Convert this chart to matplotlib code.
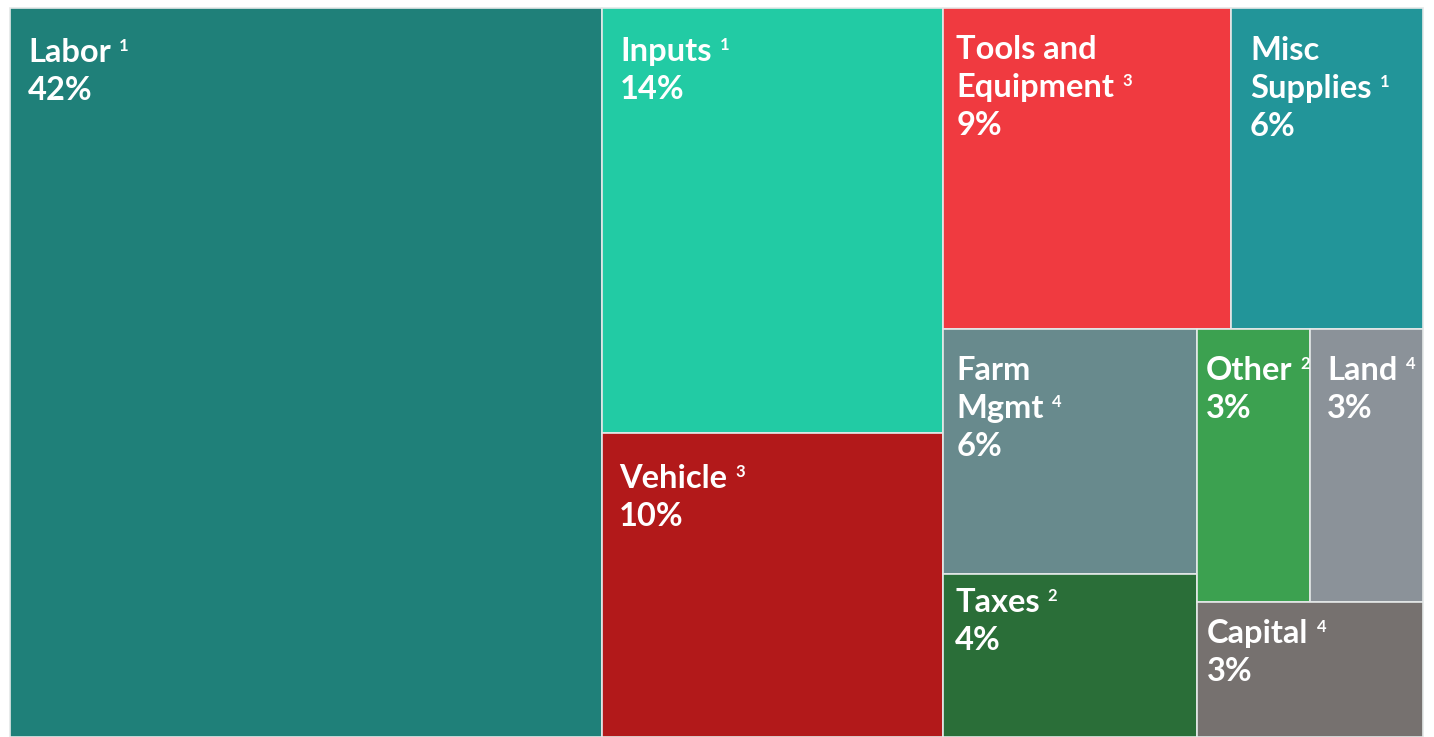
import matplotlib
matplotlib.use('Agg')
import matplotlib.pyplot as plt
from matplotlib.patches import Rectangle

# cost categories (share of total cost, %), footnote number and colour
names = ['Labor', 'Inputs', 'Vehicle', 'Tools and\nEquipment', 'Misc\nSupplies',
         'Farm\nMgmt', 'Taxes', 'Other', 'Land', 'Capital']
shares = [41.9, 14.07, 10.06, 8.97, 5.98, 6.04, 4.02, 2.99, 2.99, 2.96]
notes = [1, 1, 3, 3, 1, 4, 2, 2, 4, 4]
colors = ['#1F8079', '#22CBA4', '#B2191A', '#F03A40', '#229599',
          '#688A8D', '#2A6E38', '#3CA150', '#8B9299', '#76716F']

# how the tiles are nested (row = side by side, col = stacked), by index
tree = ('row', [0, ('col', [1, 2]),
                ('col', [('row', [3, 4]),
                         ('row', [('col', [5, 6]),
                                  ('col', [('row', [7, 8]), 9])])])])

# label inset from the tile's top-left corner, in pixels (x, first baseline)
insets = [(18, 54), (18, 53), (17, 55), (13, 51), (19, 52),
          (13, 51), (12, 38), (9, 51), (17, 51), (10, 41)]


def total(node):
    if isinstance(node, int):
        return shares[node]
    return sum(total(c) for c in node[1])


def layout(node, x, y, w, h, out):
    if isinstance(node, int):
        out[node] = (x, y, w, h)
        return
    kind, children = node
    s = total(node)
    for c in children:
        f = total(c) / s
        if kind == 'row':
            layout(c, x, y, w * f, h, out)
            x += w * f
        else:
            layout(c, x, y, w, h * f, out)
            y += h * f


rects = {}
layout(tree, 0, 0, 1, 1, rects)

fig = plt.figure(figsize=(14.34, 7.37), dpi=100)
ax = fig.add_axes([10 / 1434, 0, 1413 / 1434, 729 / 737])
ax.set_xlim(0, 1)
ax.set_ylim(1, 0)
ax.axis('off')

font = ['Lato', 'DejaVu Sans']
line_h = 38
for i, name in enumerate(names):
    x, y, w, h = rects[i]
    ax.add_patch(Rectangle((x, y), w, h, facecolor=colors[i], edgecolor='#E4E8E8',
                           linewidth=1.2, clip_on=False))
    dx, dy = insets[i]
    lines = name.split('\n') + [f"{round(shares[i])}%"]
    last = None
    for k, line in enumerate(lines):
        t = ax.annotate(line, xy=(x, y), xycoords='data', xytext=(dx, -dy - k * line_h),
                        textcoords='offset pixels', va='baseline', ha='left',
                        color='white', fontsize=23.5, fontweight='bold', family=font)
        if k == len(lines) - 2:
            last = t
    ax.annotate(str(notes[i]), xy=(1, y), xycoords=(last, 'data'),
                xytext=(8, -dy - (len(lines) - 2) * line_h + 11), textcoords='offset pixels',
                va='baseline', ha='left', color='white', fontsize=12, fontweight='bold',
                family=font)

fig.savefig('out.png', dpi=100)
